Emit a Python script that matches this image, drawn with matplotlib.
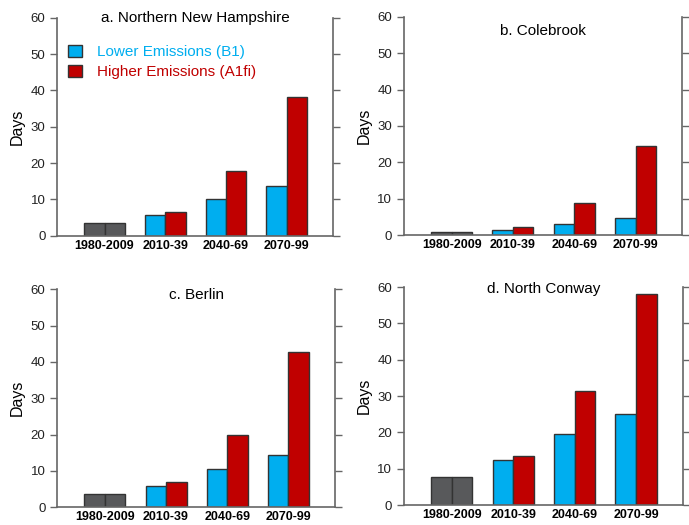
import matplotlib
matplotlib.use("Agg")
import matplotlib.pyplot as plt
from matplotlib.patches import Patch
import numpy as np

plt.rcParams['font.family'] = ['Liberation Sans', 'DejaVu Sans']

periods = ["1980-2009", "2010-39", "2040-69", "2070-99"]
titles = ["a. Northern New Hampshire", "b. Colebrook", "c. Berlin", "d. North Conway"]

# historical value (1980-2009), same for both scenarios
hist = [3.4, 0.9, 3.6, 7.8]
# future periods: 2010-39, 2040-69, 2070-99
low_b1 = [
    [5.7, 10.0, 13.7],
    [1.4, 3.1, 4.6],
    [5.7, 10.5, 14.4],
    [12.4, 19.6, 25.2],
]
high_a1fi = [
    [6.5, 17.7, 38.2],
    [2.2, 8.9, 24.6],
    [6.8, 19.8, 42.6],
    [13.4, 31.4, 58.2],
]

BLUE = "#00aeef"
RED = "#c00000"
GRAY = "#58595b"
EDGE = "#333333"
SPINE = "#666666"

# axes placement [left, bottom, width, height] in figure fractions
boxes = [
    [0.083, 0.551, 0.400, 0.415],
    [0.586, 0.552, 0.404, 0.416],
    [0.083, 0.034, 0.403, 0.415],
    [0.586, 0.038, 0.405, 0.415],
]
title_y = [1.0, 0.935, 0.975, 0.99]

fig = plt.figure(figsize=(6.89, 5.25), dpi=100)
w = 0.335

for i in range(4):
    ax = fig.add_axes(boxes[i])
    x = np.arange(1, 4)
    ax.bar([-w / 2, w / 2], [hist[i], hist[i]], width=w, color=GRAY,
           edgecolor=EDGE, linewidth=1)
    ax.bar(x - w / 2, low_b1[i], width=w, color=BLUE, edgecolor=EDGE, linewidth=1)
    ax.bar(x + w / 2, high_a1fi[i], width=w, color=RED, edgecolor=EDGE, linewidth=1)

    ax.set_xlim(-0.78, 3.76)
    ax.set_ylim(0, 60)
    ax.set_yticks(range(0, 61, 10))
    ax.set_xticks(range(4))
    ax.set_xticklabels(periods, fontsize=9, fontweight='bold')
    ax.tick_params(axis='x', length=0, pad=3)
    ax.tick_params(axis='y', labelsize=9.5, length=5, width=1, color=SPINE,
                   labelcolor="#222222", right=True, labelright=False)
    ax.spines['top'].set_visible(False)
    for s in ['left', 'right', 'bottom']:
        ax.spines[s].set_color(SPINE)
        ax.spines[s].set_linewidth(1.2)
    ax.set_ylabel("Days", fontsize=11.5, labelpad=4)
    ax.text(0.5, title_y[i], titles[i], transform=ax.transAxes, ha='center',
            va='center', fontsize=11)

    if i == 0:
        handles = [Patch(facecolor=BLUE, edgecolor=EDGE),
                   Patch(facecolor=RED, edgecolor=EDGE)]
        ax.legend(handles, ["Lower Emissions (B1)", "Higher Emissions (A1fi)"],
                  loc='upper left', bbox_to_anchor=(-0.01, 0.94), frameon=False,
                  fontsize=11, labelcolor=[BLUE, RED], handlelength=0.9,
                  handleheight=0.9, handletextpad=1.0, labelspacing=0.35)

fig.savefig("out.png", dpi=100)
